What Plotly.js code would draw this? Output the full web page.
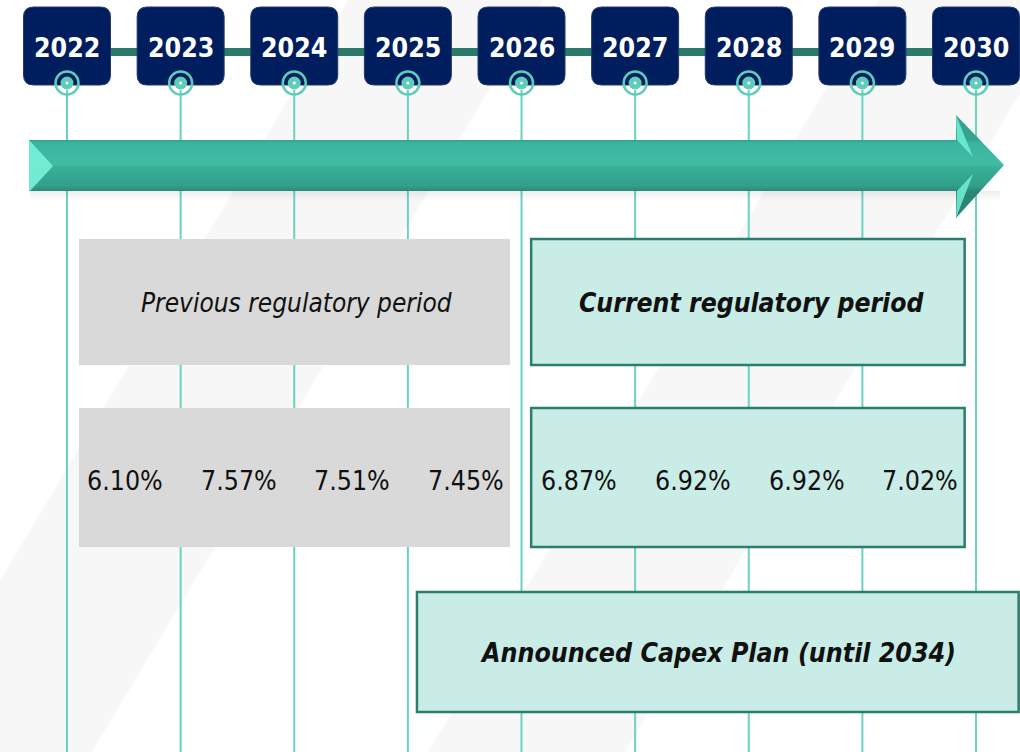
<!DOCTYPE html>
<html><head><meta charset="utf-8">
<script src="https://cdn.plot.ly/plotly-3.0.1.min.js"></script>
<style>html,body{margin:0;padding:0;background:#fff}#chart{width:1020px;height:752px}</style>
</head><body><div id="chart"></div>
<script>
// ---- data ----
const years = [2022, 2023, 2024, 2025, 2026, 2027, 2028, 2029, 2030];
const rateYears = [2022, 2023, 2024, 2025, 2026, 2027, 2028, 2029];
const rates = [6.10, 7.57, 7.51, 7.45, 6.87, 6.92, 6.92, 7.02];
const periodNames = ['Previous regulatory period', 'Current regulatory period', 'Announced Capex Plan (until 2034)'];
const periodStart = [2022, 2026, 2025];
const periodEnd = [2025, 2029, 2034];
const rateLabels = rates.map(v => v.toFixed(2) + '%');

// ---- layout helpers ----
const PX = 113.625;               // pixels per year
const X0 = years[0] - 67 / PX;    // left edge of the plot in years
const X1 = years[0] + 953 / PX;   // right edge of the plot in years
const px = p => years[0] + (p - 67) / PX;   // pixel -> year
const FONT = "'DejaVu Sans Condensed', 'DejaVu Sans', Verdana, sans-serif";
const NAVY = '#001E5E', TEAL = '#5FCDB9', DARKTEAL = '#2C7D6D', LIGHT = '#C9ECE6', GREY = '#D9D9D9';

const shapes = [];
const annotations = [];
function poly(pts, opts) {
  const d = pts.map((p, i) => (i ? 'L' : 'M') + p[0] + ',' + p[1]).join(' ') + ' Z';
  shapes.push(Object.assign({type: 'path', xref: 'x', yref: 'y', path: d, line: {width: 0}}, opts));
}

// background diagonal stripes
poly([[px(348), 0], [px(543), 0], [px(92), 752], [px(-103), 752]], {fillcolor: '#F7F7F7', layer: 'below'});
poly([[px(879), 0], [px(1076), 0], [px(625), 752], [px(428), 752]], {fillcolor: '#F7F7F7', layer: 'below'});

// vertical year lines
years.forEach(y => shapes.push({type: 'line', xref: 'x', yref: 'y', x0: y, x1: y, y0: 90, y1: 752,
  line: {color: '#6CD2C0', width: 2}, layer: 'below'}));

// connector between year boxes
shapes.push({type: 'line', xref: 'x', yref: 'y', x0: years[0], x1: years[years.length - 1], y0: 52, y1: 52,
  line: {color: '#2A7B6B', width: 8}, layer: 'below'});

// rounded year boxes
const hw = 43.5 / PX, rx = 10 / PX, ry = 10, yt = 7, yb = 85;
years.forEach(y => {
  const l = y - hw, r = y + hw;
  const d = `M${l + rx},${yt} L${r - rx},${yt} Q${r},${yt} ${r},${yt + ry} L${r},${yb - ry} Q${r},${yb} ${r - rx},${yb} ` +
            `L${l + rx},${yb} Q${l},${yb} ${l},${yb - ry} L${l},${yt + ry} Q${l},${yt} ${l + rx},${yt} Z`;
  shapes.push({type: 'path', xref: 'x', yref: 'y', path: d, fillcolor: NAVY, line: {color: '#24386E', width: 1}, layer: 'below'});
  annotations.push({x: y, y: 47, xref: 'x', yref: 'y', text: '<b>' + y + '</b>', showarrow: false,
    font: {family: FONT, size: 26.5, color: '#FFFFFF'}});
});

// period label boxes and rate boxes
function box(x0, x1, y0, y1, isCurrent) {
  shapes.push({type: 'rect', xref: 'x', yref: 'y', x0: x0, x1: x1, y0: y0, y1: y1, layer: 'above',
    fillcolor: isCurrent ? LIGHT : GREY, line: isCurrent ? {color: DARKTEAL, width: 2.5} : {width: 0}});
}
// previous & current
[0, 1].forEach(i => {
  const x0 = periodStart[i] + (i === 0 ? 0.105 : 0.085), x1 = periodEnd[i] + 0.9;
  box(x0, x1, 239, 365, i === 1);
  box(x0, x1, 408, 547, i === 1);
  annotations.push({x: (periodStart[i] + periodEnd[i]) / 2 + 0.52, y: 303, xref: 'x', yref: 'y',
    text: i === 0 ? '<i>' + periodNames[i] + '</i>' : '<b><i>' + periodNames[i] + '</i></b>', showarrow: false,
    font: {family: FONT, size: i === 0 ? 26 : 26.3, color: '#111111'}});
});
// capex
const cx0 = periodStart[2] + 0.08, cx1 = Math.min(periodEnd[2], X1 - 0.012);
box(cx0, cx1, 592, 712, true);
annotations.push({x: (cx0 + cx1) / 2, y: 652, xref: 'x', yref: 'y', text: '<b><i>' + periodNames[2] + '</i></b>', showarrow: false,
  font: {family: FONT, size: 26.5, color: '#111111'}});

// rate labels
rateYears.forEach((y, i) => annotations.push({x: y + 0.51, y: 480, xref: 'x', yref: 'y', text: rateLabels[i],
  showarrow: false, font: {family: FONT, size: 26.5, color: '#111111'}}));

// arrow bevels (above)
poly([[px(29), 140], [px(53), 166], [px(29), 192]], {fillcolor: '#7AF2DA', layer: 'above', opacity: 0.9});
poly([[px(956), 115], [px(973), 157], [px(957), 140]], {fillcolor: '#6FEBD3', layer: 'above', opacity: 0.9});
poly([[px(956), 218], [px(973), 174], [px(957), 191]], {fillcolor: '#6FEBD3', layer: 'above', opacity: 0.9});

// ---- traces ----
const arrowX = [px(29), px(956), px(956), px(1004), px(956), px(956), px(29), px(29)];
const arrowY = [140, 140, 115, 165, 218, 191, 191, 140];
const traces = [
  { // soft shadow
    x: [px(30), px(1000), px(1000), px(30), px(30)], y: [191, 191, 201, 201, 191],
    type: 'scatter', mode: 'lines', line: {width: 0}, fill: 'toself', hoverinfo: 'skip',
    fillgradient: {type: 'vertical', start: 191, stop: 201,
      colorscale: [[0, 'rgba(0,0,0,0.07)'], [1, 'rgba(0,0,0,0)']]}
  },
  {
    x: arrowX, y: arrowY, type: 'scatter', mode: 'lines', line: {width: 0}, fill: 'toself', hoverinfo: 'skip',
    fillgradient: {type: 'vertical', start: 140, stop: 192,
      colorscale: [[0, '#33A38E'], [0.06, '#3BB59F'], [0.48, '#40BBA4'], [0.52, '#39AE98'], [0.88, '#32A08B'], [1, '#2A8575']]}
  },
  {x: years, y: years.map(() => 83), type: 'scatter', mode: 'markers', hoverinfo: 'skip',
    marker: {symbol: 'circle-open', size: 23, color: TEAL, line: {color: TEAL, width: 2.5}}},
  {x: years, y: years.map(() => 83), type: 'scatter', mode: 'markers', hoverinfo: 'skip',
    marker: {symbol: 'circle', size: 13, color: TEAL, line: {width: 0}}},
  {x: years, y: years.map(() => 83), type: 'scatter', mode: 'markers', hoverinfo: 'skip',
    marker: {symbol: 'circle', size: 3, color: '#FFFFFF', line: {width: 0}}}
];

const layout = {
  width: 1020, height: 752, margin: {l: 0, r: 0, t: 0, b: 0, pad: 0},
  paper_bgcolor: '#FFFFFF', plot_bgcolor: '#FFFFFF', showlegend: false,
  xaxis: {range: [X0, X1], visible: false, fixedrange: true},
  yaxis: {range: [752, 0], visible: false, fixedrange: true},
  shapes: shapes, annotations: annotations, hovermode: false
};
Plotly.newPlot('chart', traces, layout, {displayModeBar: false, staticPlot: true});
</script>
</body></html>
